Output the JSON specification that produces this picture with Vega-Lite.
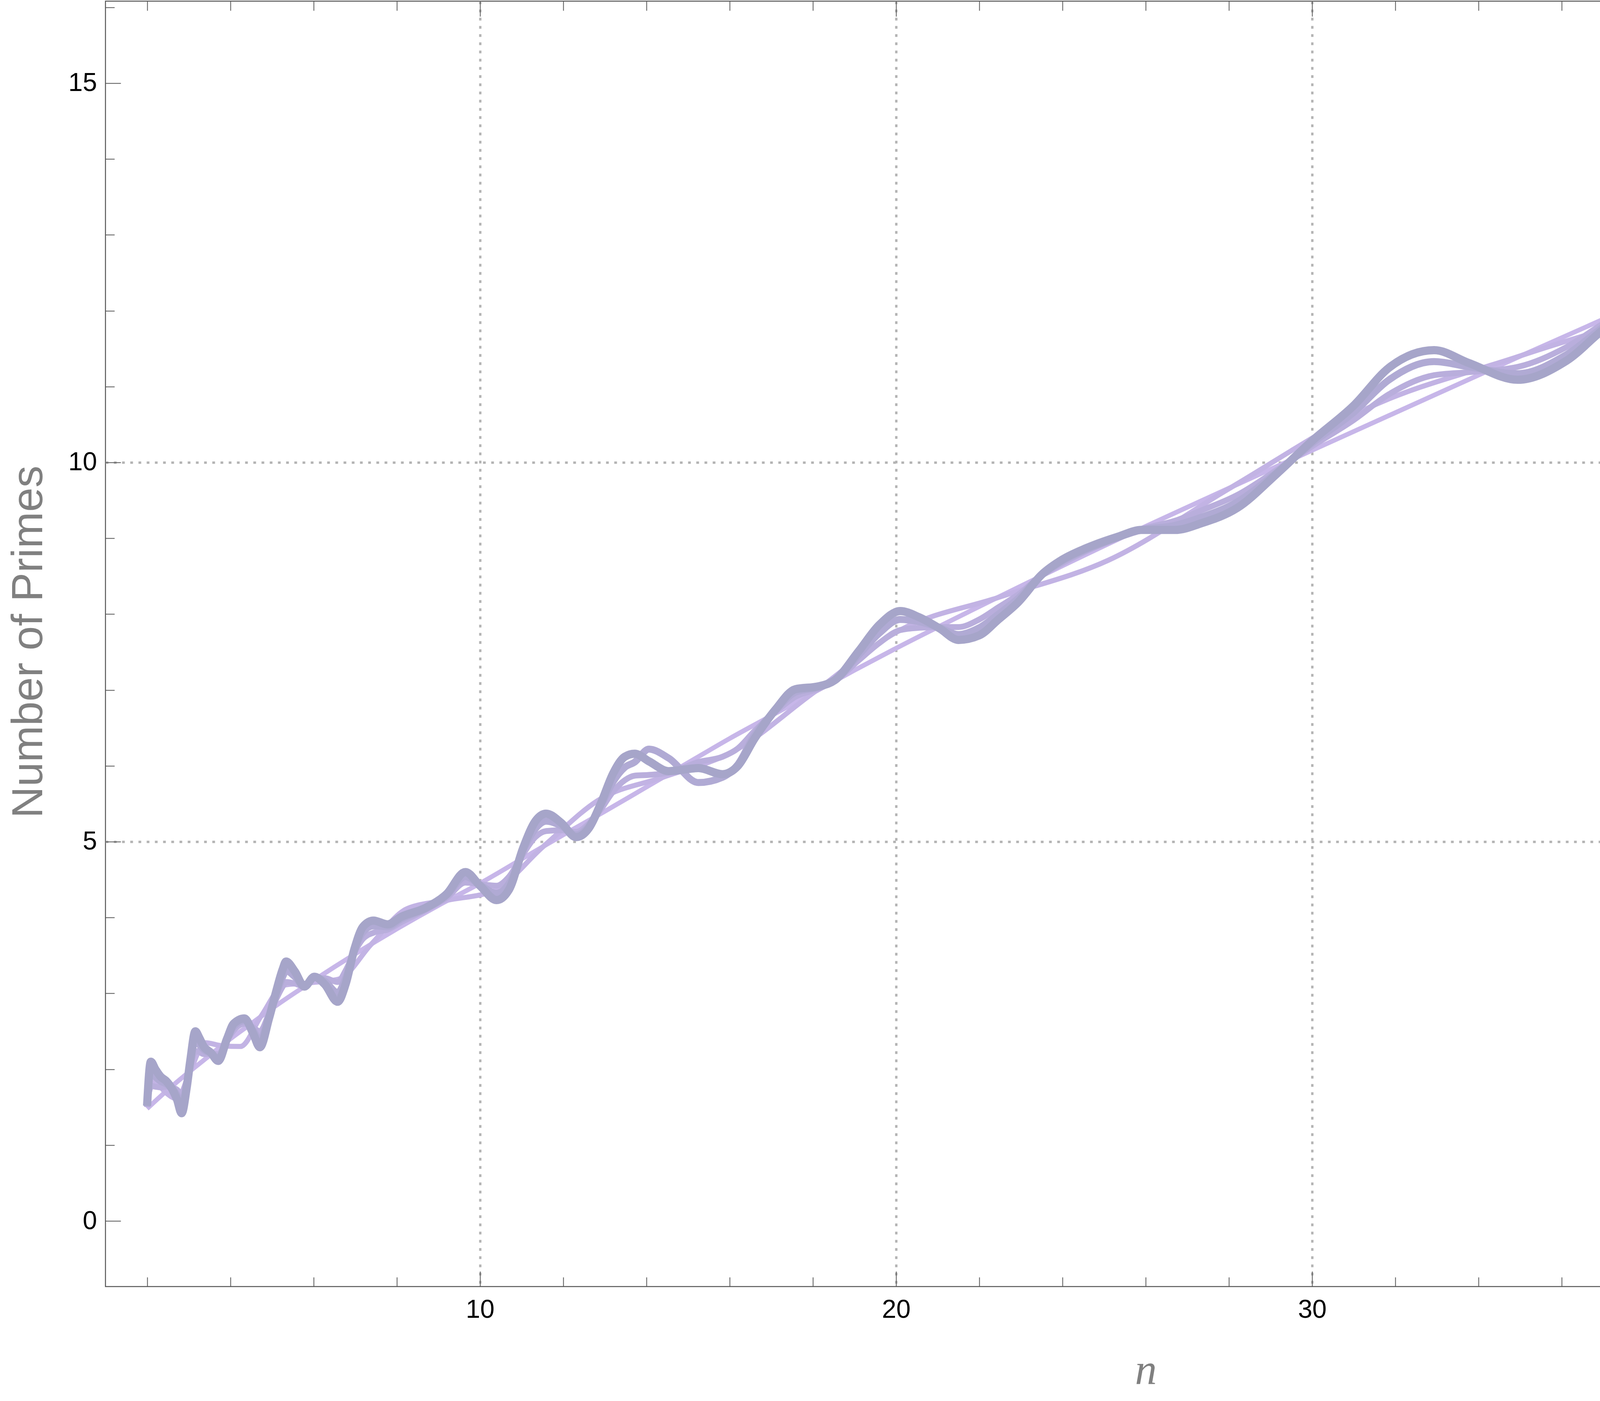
{
  "$schema": "https://vega.github.io/schema/vega-lite/v6.json",
  "width": 5326,
  "height": 3291,
  "autosize": "none",
  "padding": {"left": 270, "top": 3, "right": 4, "bottom": 293},
  "background": "white",
  "config": {
    "view": {"stroke": "#555555", "strokeWidth": 2.5},
    "axis": {
      "labelFont": "Liberation Sans",
      "labelFontSize": 66,
      "labelColor": "black",
      "labelFlush": false,
      "labelOverlap": false,
      "domain": false,
      "tickColor": "#555555",
      "tickWidth": 2,
      "gridColor": "#b3b3b3",
      "gridWidth": 6,
      "gridDash": [7, 14]
    }
  },
  "data": {
    "values": [
      {"c": "R", "n": 2, "v": 1.48}, {"c": "R", "n": 2.5, "v": 1.73}, {"c": "R", "n": 3, "v": 1.96},
      {"c": "R", "n": 3.5, "v": 2.18}, {"c": "R", "n": 4, "v": 2.40}, {"c": "R", "n": 4.5, "v": 2.60},
      {"c": "R", "n": 5, "v": 2.80}, {"c": "R", "n": 6, "v": 3.17}, {"c": "R", "n": 7, "v": 3.52},
      {"c": "R", "n": 8, "v": 3.85}, {"c": "R", "n": 9, "v": 4.16}, {"c": "R", "n": 10, "v": 4.45},
      {"c": "R", "n": 11, "v": 4.77}, {"c": "R", "n": 12, "v": 5.09}, {"c": "R", "n": 13, "v": 5.40},
      {"c": "R", "n": 14, "v": 5.72}, {"c": "R", "n": 15, "v": 6.04}, {"c": "R", "n": 16, "v": 6.36},
      {"c": "R", "n": 17, "v": 6.66}, {"c": "R", "n": 18, "v": 6.96}, {"c": "R", "n": 19, "v": 7.26},
      {"c": "R", "n": 20, "v": 7.55}, {"c": "R", "n": 22, "v": 8.10}, {"c": "R", "n": 25, "v": 8.90},
      {"c": "R", "n": 28, "v": 9.66}, {"c": "R", "n": 30, "v": 10.16}, {"c": "R", "n": 35, "v": 11.40},
      {"c": "R", "n": 40, "v": 12.62}, {"c": "R", "n": 45, "v": 13.82}, {"c": "R", "n": 50, "v": 14.98},

      {"c": "K1", "n": 2, "v": 1.585}, {"c": "K1", "n": 2.177, "v": 1.84}, {"c": "K1", "n": 2.433, "v": 1.70},
      {"c": "K1", "n": 2.719, "v": 1.61}, {"c": "K1", "n": 3.038, "v": 1.98}, {"c": "K1", "n": 3.396, "v": 2.35},
      {"c": "K1", "n": 3.795, "v": 2.31}, {"c": "K1", "n": 4.241, "v": 2.30}, {"c": "K1", "n": 4.739, "v": 2.70},
      {"c": "K1", "n": 5.296, "v": 3.11}, {"c": "K1", "n": 5.918, "v": 3.14}, {"c": "K1", "n": 6.614, "v": 3.19},
      {"c": "K1", "n": 7.391, "v": 3.65}, {"c": "K1", "n": 8.26, "v": 4.12}, {"c": "K1", "n": 9.231, "v": 4.23},
      {"c": "K1", "n": 10.316, "v": 4.35}, {"c": "K1", "n": 11.53, "v": 4.94}, {"c": "K1", "n": 12.885, "v": 5.56},
      {"c": "K1", "n": 14.4, "v": 5.85}, {"c": "K1", "n": 16.09, "v": 6.19}, {"c": "K1", "n": 17.98, "v": 6.95},
      {"c": "K1", "n": 20.1, "v": 7.79}, {"c": "K1", "n": 22.46, "v": 8.22}, {"c": "K1", "n": 25.1, "v": 8.71},
      {"c": "K1", "n": 28.05, "v": 9.67}, {"c": "K1", "n": 31.35, "v": 10.72}, {"c": "K1", "n": 35.03, "v": 11.41},
      {"c": "K1", "n": 39.15, "v": 12.17}, {"c": "K1", "n": 43.75, "v": 13.52}, {"c": "K1", "n": 48.9, "v": 14.98},
      {"c": "K1", "n": 50, "v": 15.22},

      {"c": "K2", "n": 2, "v": 1.50}, {"c": "K2", "n": 2.09, "v": 1.78}, {"c": "K2", "n": 2.2, "v": 1.77},
      {"c": "K2", "n": 2.33, "v": 1.76}, {"c": "K2", "n": 2.45, "v": 1.77}, {"c": "K2", "n": 2.6, "v": 1.76},
      {"c": "K2", "n": 2.72, "v": 1.73}, {"c": "K2", "n": 2.83, "v": 1.67}, {"c": "K2", "n": 2.95, "v": 1.85},
      {"c": "K2", "n": 3.04, "v": 2.04}, {"c": "K2", "n": 3.16, "v": 2.24}, {"c": "K2", "n": 3.25, "v": 2.23},
      {"c": "K2", "n": 3.36, "v": 2.20}, {"c": "K2", "n": 3.53, "v": 2.20}, {"c": "K2", "n": 3.71, "v": 2.20},
      {"c": "K2", "n": 3.92, "v": 2.38}, {"c": "K2", "n": 4.08, "v": 2.51}, {"c": "K2", "n": 4.34, "v": 2.60},
      {"c": "K2", "n": 4.55, "v": 2.55}, {"c": "K2", "n": 4.71, "v": 2.50}, {"c": "K2", "n": 4.93, "v": 2.73},
      {"c": "K2", "n": 5.09, "v": 2.91}, {"c": "K2", "n": 5.26, "v": 3.09}, {"c": "K2", "n": 5.34, "v": 3.15},
      {"c": "K2", "n": 5.55, "v": 3.13}, {"c": "K2", "n": 5.78, "v": 3.09}, {"c": "K2", "n": 6.02, "v": 3.20},
      {"c": "K2", "n": 6.27, "v": 3.20}, {"c": "K2", "n": 6.58, "v": 3.15}, {"c": "K2", "n": 6.77, "v": 3.30},
      {"c": "K2", "n": 6.98, "v": 3.54}, {"c": "K2", "n": 7.19, "v": 3.72}, {"c": "K2", "n": 7.44, "v": 3.80},
      {"c": "K2", "n": 7.78, "v": 3.84}, {"c": "K2", "n": 8.11, "v": 3.94}, {"c": "K2", "n": 8.7, "v": 4.10},
      {"c": "K2", "n": 9.2, "v": 4.26}, {"c": "K2", "n": 9.65, "v": 4.46}, {"c": "K2", "n": 10, "v": 4.44},
      {"c": "K2", "n": 10.4, "v": 4.42}, {"c": "K2", "n": 10.7, "v": 4.54}, {"c": "K2", "n": 11.04, "v": 4.84},
      {"c": "K2", "n": 11.33, "v": 5.06}, {"c": "K2", "n": 11.59, "v": 5.14}, {"c": "K2", "n": 11.95, "v": 5.15},
      {"c": "K2", "n": 12.31, "v": 5.13}, {"c": "K2", "n": 12.62, "v": 5.24}, {"c": "K2", "n": 12.91, "v": 5.43},
      {"c": "K2", "n": 13.2, "v": 5.66}, {"c": "K2", "n": 13.48, "v": 5.81}, {"c": "K2", "n": 13.72, "v": 5.87},
      {"c": "K2", "n": 14.06, "v": 5.88}, {"c": "K2", "n": 14.54, "v": 5.91}, {"c": "K2", "n": 15.25, "v": 6.05},
      {"c": "K2", "n": 15.83, "v": 6.12}, {"c": "K2", "n": 16.2, "v": 6.23}, {"c": "K2", "n": 16.6, "v": 6.46},
      {"c": "K2", "n": 17.1, "v": 6.71}, {"c": "K2", "n": 17.58, "v": 6.91}, {"c": "K2", "n": 18.15, "v": 7.02},
      {"c": "K2", "n": 18.53, "v": 7.12}, {"c": "K2", "n": 19.1, "v": 7.39}, {"c": "K2", "n": 19.6, "v": 7.62},
      {"c": "K2", "n": 20.1, "v": 7.79}, {"c": "K2", "n": 20.55, "v": 7.82}, {"c": "K2", "n": 21.05, "v": 7.83},
      {"c": "K2", "n": 21.5, "v": 7.83}, {"c": "K2", "n": 22, "v": 7.93}, {"c": "K2", "n": 22.46, "v": 8.09},
      {"c": "K2", "n": 22.94, "v": 8.26}, {"c": "K2", "n": 23.5, "v": 8.51}, {"c": "K2", "n": 24, "v": 8.67},
      {"c": "K2", "n": 24.57, "v": 8.83}, {"c": "K2", "n": 25.33, "v": 9.00}, {"c": "K2", "n": 25.9, "v": 9.12},
      {"c": "K2", "n": 26.7, "v": 9.23}, {"c": "K2", "n": 27.35, "v": 9.37}, {"c": "K2", "n": 28.2, "v": 9.57},
      {"c": "K2", "n": 29.15, "v": 9.90}, {"c": "K2", "n": 29.99, "v": 10.21}, {"c": "K2", "n": 31, "v": 10.56},
      {"c": "K2", "n": 31.85, "v": 10.90}, {"c": "K2", "n": 32.93, "v": 11.15}, {"c": "K2", "n": 33.77, "v": 11.19},
      {"c": "K2", "n": 34.94, "v": 11.26}, {"c": "K2", "n": 36.11, "v": 11.52}, {"c": "K2", "n": 37.12, "v": 11.87},
      {"c": "K2", "n": 38.2, "v": 12.14}, {"c": "K2", "n": 39, "v": 12.27}, {"c": "K2", "n": 40, "v": 12.41},
      {"c": "K2", "n": 41.26, "v": 12.77}, {"c": "K2", "n": 42.35, "v": 13.25}, {"c": "K2", "n": 43.35, "v": 13.62},
      {"c": "K2", "n": 44.36, "v": 13.95}, {"c": "K2", "n": 45.45, "v": 14.25}, {"c": "K2", "n": 46.3, "v": 14.45},
      {"c": "K2", "n": 47.13, "v": 14.68}, {"c": "K2", "n": 48.4, "v": 14.98}, {"c": "K2", "n": 50, "v": 15.22},

      {"c": "K3", "n": 2, "v": 1.51}, {"c": "K3", "n": 2.09, "v": 1.96}, {"c": "K3", "n": 2.2, "v": 1.90},
      {"c": "K3", "n": 2.33, "v": 1.84}, {"c": "K3", "n": 2.45, "v": 1.81}, {"c": "K3", "n": 2.6, "v": 1.75},
      {"c": "K3", "n": 2.72, "v": 1.66}, {"c": "K3", "n": 2.83, "v": 1.54}, {"c": "K3", "n": 2.95, "v": 1.80},
      {"c": "K3", "n": 3.04, "v": 2.09}, {"c": "K3", "n": 3.16, "v": 2.38}, {"c": "K3", "n": 3.25, "v": 2.33},
      {"c": "K3", "n": 3.36, "v": 2.26}, {"c": "K3", "n": 3.53, "v": 2.21}, {"c": "K3", "n": 3.71, "v": 2.15},
      {"c": "K3", "n": 3.92, "v": 2.39}, {"c": "K3", "n": 4.08, "v": 2.56}, {"c": "K3", "n": 4.34, "v": 2.64},
      {"c": "K3", "n": 4.55, "v": 2.51}, {"c": "K3", "n": 4.71, "v": 2.39}, {"c": "K3", "n": 4.93, "v": 2.70},
      {"c": "K3", "n": 5.09, "v": 2.96}, {"c": "K3", "n": 5.26, "v": 3.22}, {"c": "K3", "n": 5.34, "v": 3.30},
      {"c": "K3", "n": 5.55, "v": 3.22}, {"c": "K3", "n": 5.78, "v": 3.09}, {"c": "K3", "n": 6.02, "v": 3.21},
      {"c": "K3", "n": 6.27, "v": 3.16}, {"c": "K3", "n": 6.58, "v": 3.01}, {"c": "K3", "n": 6.77, "v": 3.20},
      {"c": "K3", "n": 6.98, "v": 3.56}, {"c": "K3", "n": 7.19, "v": 3.81}, {"c": "K3", "n": 7.44, "v": 3.89},
      {"c": "K3", "n": 7.78, "v": 3.88}, {"c": "K3", "n": 8.11, "v": 3.98}, {"c": "K3", "n": 8.7, "v": 4.12},
      {"c": "K3", "n": 9.2, "v": 4.29}, {"c": "K3", "n": 9.65, "v": 4.54}, {"c": "K3", "n": 10, "v": 4.43},
      {"c": "K3", "n": 10.4, "v": 4.32}, {"c": "K3", "n": 10.7, "v": 4.45}, {"c": "K3", "n": 11.04, "v": 4.89},
      {"c": "K3", "n": 11.33, "v": 5.17}, {"c": "K3", "n": 11.59, "v": 5.27}, {"c": "K3", "n": 11.95, "v": 5.21},
      {"c": "K3", "n": 12.31, "v": 5.09}, {"c": "K3", "n": 12.62, "v": 5.21}, {"c": "K3", "n": 12.91, "v": 5.48},
      {"c": "K3", "n": 13.2, "v": 5.79}, {"c": "K3", "n": 13.48, "v": 5.98}, {"c": "K3", "n": 13.72, "v": 6.05},
      {"c": "K3", "n": 14.06, "v": 6.22}, {"c": "K3", "n": 14.54, "v": 6.10}, {"c": "K3", "n": 15.25, "v": 5.78},
      {"c": "K3", "n": 15.83, "v": 5.85}, {"c": "K3", "n": 16.2, "v": 6.02}, {"c": "K3", "n": 16.6, "v": 6.41},
      {"c": "K3", "n": 17.1, "v": 6.73}, {"c": "K3", "n": 17.58, "v": 6.97}, {"c": "K3", "n": 18.15, "v": 7.04},
      {"c": "K3", "n": 18.53, "v": 7.13}, {"c": "K3", "n": 19.1, "v": 7.46}, {"c": "K3", "n": 19.6, "v": 7.75},
      {"c": "K3", "n": 20.1, "v": 7.93}, {"c": "K3", "n": 20.55, "v": 7.90}, {"c": "K3", "n": 21.05, "v": 7.82},
      {"c": "K3", "n": 21.5, "v": 7.73}, {"c": "K3", "n": 22, "v": 7.82}, {"c": "K3", "n": 22.46, "v": 8.00},
      {"c": "K3", "n": 22.94, "v": 8.21}, {"c": "K3", "n": 23.5, "v": 8.52}, {"c": "K3", "n": 24, "v": 8.70},
      {"c": "K3", "n": 24.57, "v": 8.85}, {"c": "K3", "n": 25.33, "v": 9.01}, {"c": "K3", "n": 25.9, "v": 9.11},
      {"c": "K3", "n": 26.7, "v": 9.17}, {"c": "K3", "n": 27.35, "v": 9.28}, {"c": "K3", "n": 28.2, "v": 9.48},
      {"c": "K3", "n": 29.15, "v": 9.87}, {"c": "K3", "n": 29.99, "v": 10.25}, {"c": "K3", "n": 31, "v": 10.66},
      {"c": "K3", "n": 31.85, "v": 11.09}, {"c": "K3", "n": 32.93, "v": 11.33}, {"c": "K3", "n": 33.77, "v": 11.26},
      {"c": "K3", "n": 34.94, "v": 11.17}, {"c": "K3", "n": 36.11, "v": 11.42}, {"c": "K3", "n": 37.12, "v": 11.83},
      {"c": "K3", "n": 38.2, "v": 12.11}, {"c": "K3", "n": 39, "v": 12.19}, {"c": "K3", "n": 40, "v": 12.27},
      {"c": "K3", "n": 41.26, "v": 12.67}, {"c": "K3", "n": 42.35, "v": 13.20}, {"c": "K3", "n": 43.35, "v": 13.61},
      {"c": "K3", "n": 44.36, "v": 13.83}, {"c": "K3", "n": 45.45, "v": 13.97}, {"c": "K3", "n": 46.3, "v": 14.14},
      {"c": "K3", "n": 47.13, "v": 14.38}, {"c": "K3", "n": 48.4, "v": 14.74}, {"c": "K3", "n": 50, "v": 15.18},

      {"c": "F", "n": 2, "v": 1.52}, {"c": "F", "n": 2.09, "v": 2.10}, {"c": "F", "n": 2.2, "v": 2.00},
      {"c": "F", "n": 2.33, "v": 1.90}, {"c": "F", "n": 2.45, "v": 1.85}, {"c": "F", "n": 2.6, "v": 1.74},
      {"c": "F", "n": 2.72, "v": 1.60}, {"c": "F", "n": 2.83, "v": 1.42}, {"c": "F", "n": 2.95, "v": 1.75},
      {"c": "F", "n": 3.04, "v": 2.12}, {"c": "F", "n": 3.16, "v": 2.50}, {"c": "F", "n": 3.25, "v": 2.42},
      {"c": "F", "n": 3.36, "v": 2.30}, {"c": "F", "n": 3.53, "v": 2.22}, {"c": "F", "n": 3.71, "v": 2.11},
      {"c": "F", "n": 3.92, "v": 2.40}, {"c": "F", "n": 4.08, "v": 2.60}, {"c": "F", "n": 4.34, "v": 2.67},
      {"c": "F", "n": 4.55, "v": 2.47}, {"c": "F", "n": 4.71, "v": 2.29}, {"c": "F", "n": 4.93, "v": 2.67},
      {"c": "F", "n": 5.09, "v": 3.00}, {"c": "F", "n": 5.26, "v": 3.32}, {"c": "F", "n": 5.34, "v": 3.42},
      {"c": "F", "n": 5.55, "v": 3.29}, {"c": "F", "n": 5.78, "v": 3.09}, {"c": "F", "n": 6.02, "v": 3.22},
      {"c": "F", "n": 6.27, "v": 3.12}, {"c": "F", "n": 6.58, "v": 2.89}, {"c": "F", "n": 6.77, "v": 3.12},
      {"c": "F", "n": 6.98, "v": 3.58}, {"c": "F", "n": 7.19, "v": 3.88}, {"c": "F", "n": 7.44, "v": 3.96},
      {"c": "F", "n": 7.78, "v": 3.91}, {"c": "F", "n": 8.11, "v": 4.01}, {"c": "F", "n": 8.7, "v": 4.13},
      {"c": "F", "n": 9.2, "v": 4.31}, {"c": "F", "n": 9.65, "v": 4.60}, {"c": "F", "n": 10, "v": 4.42},
      {"c": "F", "n": 10.4, "v": 4.23}, {"c": "F", "n": 10.7, "v": 4.37}, {"c": "F", "n": 11.04, "v": 4.92},
      {"c": "F", "n": 11.33, "v": 5.27}, {"c": "F", "n": 11.59, "v": 5.37}, {"c": "F", "n": 11.95, "v": 5.25},
      {"c": "F", "n": 12.31, "v": 5.06}, {"c": "F", "n": 12.62, "v": 5.18}, {"c": "F", "n": 12.91, "v": 5.51},
      {"c": "F", "n": 13.2, "v": 5.90}, {"c": "F", "n": 13.48, "v": 6.12}, {"c": "F", "n": 13.72, "v": 6.16},
      {"c": "F", "n": 14.06, "v": 6.06}, {"c": "F", "n": 14.54, "v": 5.93}, {"c": "F", "n": 15.25, "v": 5.97},
      {"c": "F", "n": 15.83, "v": 5.89}, {"c": "F", "n": 16.2, "v": 6.00}, {"c": "F", "n": 16.6, "v": 6.36},
      {"c": "F", "n": 17.1, "v": 6.74}, {"c": "F", "n": 17.58, "v": 7.01}, {"c": "F", "n": 18.15, "v": 7.05},
      {"c": "F", "n": 18.53, "v": 7.13}, {"c": "F", "n": 19.1, "v": 7.51}, {"c": "F", "n": 19.6, "v": 7.86},
      {"c": "F", "n": 20.1, "v": 8.04}, {"c": "F", "n": 20.55, "v": 7.96}, {"c": "F", "n": 21.05, "v": 7.81},
      {"c": "F", "n": 21.5, "v": 7.66}, {"c": "F", "n": 22, "v": 7.72}, {"c": "F", "n": 22.46, "v": 7.93},
      {"c": "F", "n": 22.94, "v": 8.16}, {"c": "F", "n": 23.5, "v": 8.52}, {"c": "F", "n": 24, "v": 8.72},
      {"c": "F", "n": 24.57, "v": 8.87}, {"c": "F", "n": 25.33, "v": 9.02}, {"c": "F", "n": 25.9, "v": 9.11},
      {"c": "F", "n": 26.7, "v": 9.11}, {"c": "F", "n": 27.35, "v": 9.20}, {"c": "F", "n": 28.2, "v": 9.40},
      {"c": "F", "n": 29.15, "v": 9.85}, {"c": "F", "n": 29.99, "v": 10.28}, {"c": "F", "n": 31, "v": 10.75},
      {"c": "F", "n": 31.85, "v": 11.25}, {"c": "F", "n": 32.93, "v": 11.48}, {"c": "F", "n": 33.77, "v": 11.31},
      {"c": "F", "n": 34.94, "v": 11.09}, {"c": "F", "n": 36.11, "v": 11.34}, {"c": "F", "n": 37.12, "v": 11.80},
      {"c": "F", "n": 38.2, "v": 12.08}, {"c": "F", "n": 39, "v": 12.13}, {"c": "F", "n": 40, "v": 12.15},
      {"c": "F", "n": 41.26, "v": 12.59}, {"c": "F", "n": 42.35, "v": 13.21}, {"c": "F", "n": 43.35, "v": 13.67},
      {"c": "F", "n": 44.36, "v": 13.88}, {"c": "F", "n": 45.45, "v": 13.99}, {"c": "F", "n": 46.3, "v": 14.15},
      {"c": "F", "n": 47.13, "v": 14.40}, {"c": "F", "n": 48.4, "v": 14.78}, {"c": "F", "n": 50, "v": 15.24}
    ]
  },
  "resolve": {"axis": {"x": "independent", "y": "independent"}},
  "layer": [
    {
      "transform": [{"filter": "datum.c === 'R'"}],
      "mark": {"type": "line", "interpolate": "monotone", "color": "#c7b6e9", "strokeWidth": 12},
      "encoding": {
        "x": {
          "field": "n", "type": "quantitative",
          "scale": {"domain": [1, 51], "nice": false, "zero": false},
          "axis": {
            "orient": "bottom",
            "values": [2, 4, 6, 8, 10, 12, 14, 16, 18, 20, 22, 24, 26, 28, 30, 32, 34, 36, 38, 40, 42, 44, 46, 48, 50],
            "labelExpr": "datum.value % 10 === 0 ? datum.label : ''",
            "tickSize": {"condition": {"test": "datum.value % 10 === 0", "value": -39}, "value": -24},
            "labelPadding": 66,
            "grid": true,
            "gridOpacity": {"condition": {"test": "datum.value % 10 === 0 && datum.value < 50", "value": 1}, "value": 0},
            "title": "n",
            "titleFont": "Liberation Serif",
            "titleFontStyle": "italic",
            "titleFontWeight": "normal",
            "titleFontSize": 112,
            "titleColor": "#808080",
            "titleX": 2663,
            "titleY": 249,
            "titleAlign": "center",
            "titleBaseline": "alphabetic"
          }
        },
        "y": {
          "field": "v", "type": "quantitative",
          "scale": {"domain": [-0.865, 16.081], "nice": false, "zero": false},
          "axis": {
            "orient": "left",
            "values": [0, 1, 2, 3, 4, 5, 6, 7, 8, 9, 10, 11, 12, 13, 14, 15, 16],
            "labelExpr": "datum.value % 5 === 0 ? datum.label : ''",
            "tickSize": {"condition": {"test": "datum.value % 5 === 0", "value": -39}, "value": -23},
            "labelPadding": 61,
            "grid": true,
            "gridOpacity": {"condition": {"test": "datum.value === 5 || datum.value === 10", "value": 1}, "value": 0},
            "title": "Number of Primes",
            "titleFont": "Liberation Sans",
            "titleFontWeight": "normal",
            "titleFontSize": 112,
            "titleColor": "#808080",
            "titleAngle": -90,
            "titleX": -163,
            "titleY": 1640,
            "titleAlign": "center",
            "titleBaseline": "alphabetic"
          }
        }
      }
    },
    {
      "transform": [{"filter": "datum.c === 'K1'"}],
      "mark": {"type": "line", "interpolate": "monotone", "color": "#c2b3e4", "strokeWidth": 13},
      "encoding": {
        "x": {
          "field": "n", "type": "quantitative",
          "axis": {
            "orient": "top",
            "values": [2, 4, 6, 8, 10, 12, 14, 16, 18, 20, 22, 24, 26, 28, 30, 32, 34, 36, 38, 40, 42, 44, 46, 48, 50],
            "labels": false,
            "grid": false,
            "title": null,
            "tickSize": {"condition": {"test": "datum.value % 10 === 0", "value": -39}, "value": -24}
          }
        },
        "y": {
          "field": "v", "type": "quantitative",
          "axis": {
            "orient": "right",
            "values": [0, 1, 2, 3, 4, 5, 6, 7, 8, 9, 10, 11, 12, 13, 14, 15, 16],
            "labels": false,
            "grid": false,
            "title": null,
            "tickSize": {"condition": {"test": "datum.value % 5 === 0", "value": -39}, "value": -23}
          }
        }
      }
    },
    {
      "transform": [{"filter": "datum.c === 'K2'"}],
      "mark": {"type": "line", "interpolate": "monotone", "color": "#b9aedc", "strokeWidth": 15},
      "encoding": {
        "x": {"field": "n", "type": "quantitative", "axis": null},
        "y": {"field": "v", "type": "quantitative", "axis": null}
      }
    },
    {
      "transform": [{"filter": "datum.c === 'K3'"}],
      "mark": {"type": "line", "interpolate": "monotone", "color": "#b0aad4", "strokeWidth": 18},
      "encoding": {
        "x": {"field": "n", "type": "quantitative", "axis": null},
        "y": {"field": "v", "type": "quantitative", "axis": null}
      }
    },
    {
      "transform": [{"filter": "datum.c === 'F'"}],
      "mark": {"type": "line", "interpolate": "monotone", "color": "#a6a5c9", "strokeWidth": 21},
      "encoding": {
        "x": {"field": "n", "type": "quantitative", "axis": null},
        "y": {"field": "v", "type": "quantitative", "axis": null}
      }
    }
  ]
}
